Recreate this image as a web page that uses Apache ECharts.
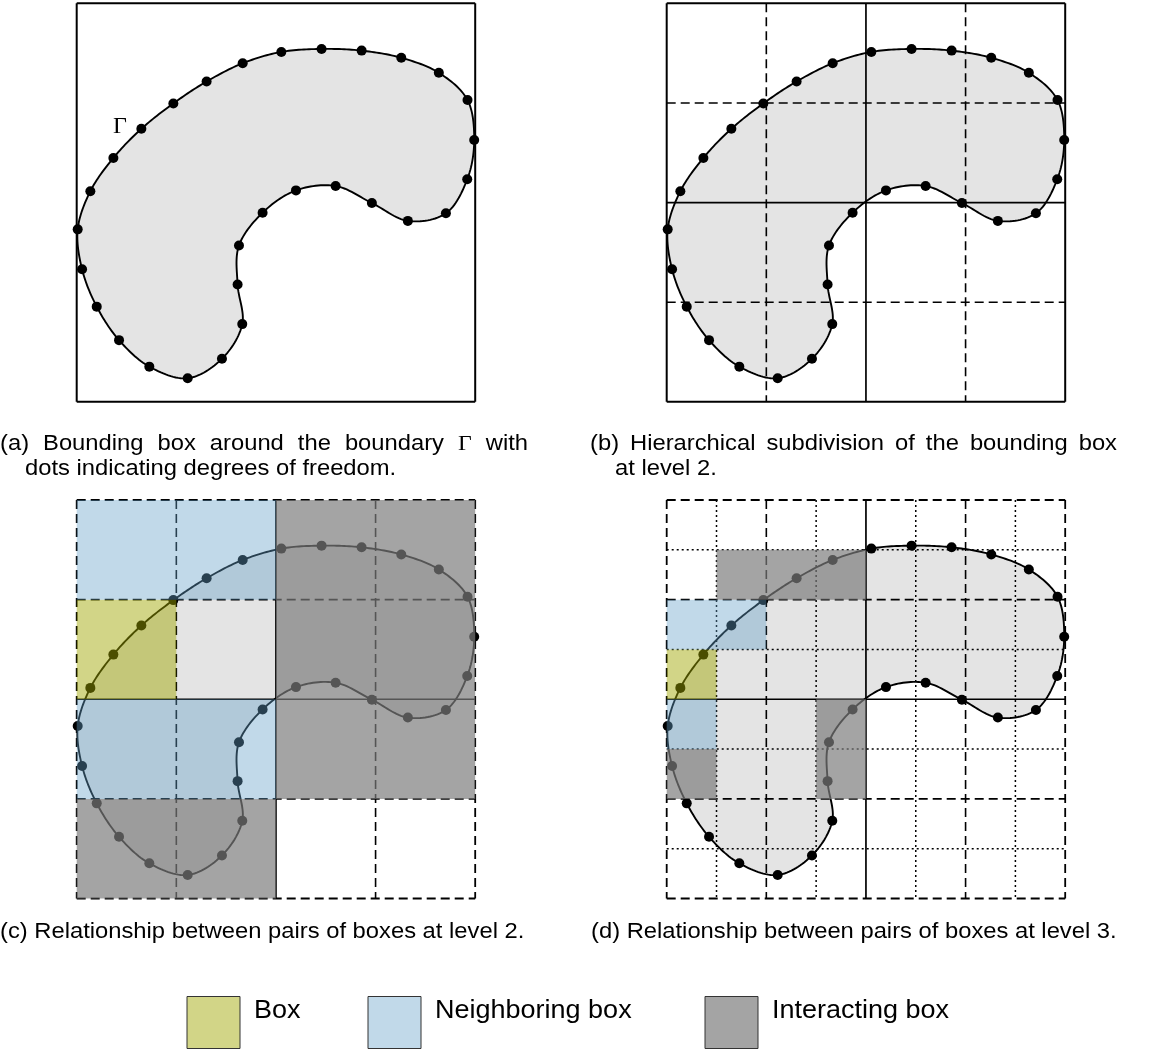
<!DOCTYPE html>
<html><head><meta charset="utf-8">
<script src="https://cdn.jsdelivr.net/npm/echarts@6/dist/echarts.min.js"></script>
<style>html,body{margin:0;padding:0;background:#fff}#c{width:1163px;height:1052px}</style>
</head><body><div id="c"></div>
<script>
// ---- data (box units, 4x4 bounding box, v measured downward) ----
const dotU = [2.458,2.860,3.258,3.635,3.923,3.990,3.920,3.706,3.324,2.963,2.599,2.201,1.866,1.629,1.615,1.662,1.458,1.114,0.729,0.425,0.201,0.054,0.010,0.137,0.368,0.649,0.970,1.304,1.666,2.054];
const dotV = [0.458,0.475,0.547,0.697,0.971,1.373,1.767,2.108,2.184,2.005,1.834,1.878,2.102,2.431,2.822,3.220,3.568,3.764,3.647,3.381,3.045,2.670,2.269,1.886,1.552,1.260,1.005,0.785,0.602,0.488];

const borderPos = [0, 4];
const level1Pos = [2];
const level2Pos = [1, 3];
const level3Pos = [0.5, 1.5, 2.5, 3.5];

// boxes as [u0, v0, u1, v1]
const level2Box = [[0,1,1,2]];
const level2Neighbors = [[0,0,2,1],[0,2,2,3]];
const level2Interacting = [[2,0,4,3],[0,3,2,4]];
const level3Box = [[0,1.5,0.5,2]];
const level3Neighbors = [[0,1,1,1.5],[0,2,0.5,2.5]];
const level3Interacting = [[0.5,0.5,2,1],[0,2.5,0.5,3],[1.5,2,2,3]];

const captions = [
  ['(a)', 'Bounding box around the boundary Γ with', 'dots indicating degrees of freedom.'],
  ['(b)', 'Hierarchical subdivision of the bounding box', 'at level 2.'],
  ['(c)', 'Relationship between pairs of boxes at level 2.', null],
  ['(d)', 'Relationship between pairs of boxes at level 3.', null]
];
const legendLabels = ['Box', 'Neighboring box', 'Interacting box'];

// ---- styles ----
const overlayColors = ['rgba(160,166,0,0.47)', 'rgba(100,160,200,0.40)', 'rgba(123,123,123,0.69)'];
const PANEL = [
  {left: 76.7, top: 3.3, border: 'solid', maxLevel: 0},
  {left: 666.7, top: 3.3, border: 'solid', maxLevel: 2},
  {left: 76.7, top: 500, border: 'dashed', maxLevel: 2},
  {left: 666.7, top: 500, border: 'dashed', maxLevel: 3}
];
const SIZE = 398.5;
const DASH = [9, 5], DOT = [2, 3];

function closedSpline(pts, n) {
  const out = [], N = pts.length;
  for (let i = 0; i < N; i++) {
    const p0 = pts[(i - 1 + N) % N], p1 = pts[i], p2 = pts[(i + 1) % N], p3 = pts[(i + 2) % N];
    for (let k = 0; k < n; k++) {
      const t = k / n, t2 = t * t, t3 = t2 * t;
      const f = j => 0.5 * (2 * p1[j] + (-p0[j] + p2[j]) * t + (2 * p0[j] - 5 * p1[j] + 4 * p2[j] - p3[j]) * t2 + (-p0[j] + 3 * p1[j] - 3 * p2[j] + p3[j]) * t3);
      out.push([f(0), f(1)]);
    }
  }
  return out;
}

function lineData(p) {
  const d = [];
  const add = (arr, style) => arr.forEach(pos => { d.push([0, pos, style]); d.push([1, pos, style]); });
  if (PANEL[p].maxLevel >= 3) add(level3Pos, 3);
  if (PANEL[p].maxLevel >= 2) add(level2Pos, 2);
  if (PANEL[p].maxLevel >= 1) add(level1Pos, 1);
  add(borderPos, PANEL[p].border === 'solid' ? 0 : 4);
  return d;
}
function lineStyle(s) {
  if (s === 0) return {stroke: '#000', lineWidth: 2};
  if (s === 1) return {stroke: '#000', lineWidth: 1.7};
  if (s === 2) return {stroke: '#000', lineWidth: 1.6, lineDash: DASH};
  if (s === 3) return {stroke: '#000', lineWidth: 1.5, lineDash: DOT};
  return {stroke: '#000', lineWidth: 1.8, lineDash: DASH};
}

const overlayData = [
  [], [],
  level2Box.map(b => b.concat(0)).concat(level2Neighbors.map(b => b.concat(1)), level2Interacting.map(b => b.concat(2))),
  level3Box.map(b => b.concat(0)).concat(level3Neighbors.map(b => b.concat(1)), level3Interacting.map(b => b.concat(2)))
];

const grids = [], xAxes = [], yAxes = [], series = [];
PANEL.forEach((P, p) => {
  grids.push({left: P.left, top: P.top, width: SIZE, height: SIZE, containLabel: false});
  xAxes.push({type: 'value', gridIndex: p, min: 0, max: 4, show: false});
  yAxes.push({type: 'value', gridIndex: p, min: 0, max: 4, inverse: true, show: false});
  const ax = {xAxisIndex: p, yAxisIndex: p};
  series.push(Object.assign({
    type: 'custom', z: 1, silent: true, clip: false,
    data: [[2, 2]],
    renderItem: (params, api) => {
      const pts = dotU.map((u, i) => api.coord([u, dotV[i]]));
      return {type: 'polygon', shape: {points: closedSpline(pts, 16)},
        style: {fill: '#e4e4e4', stroke: '#000', lineWidth: 1.9}};
    }
  }, ax));
  series.push(Object.assign({
    type: 'custom', z: 2, silent: true, clip: false,
    data: lineData(p),
    renderItem: (params, api) => {
      const o = api.value(0), pos = api.value(1), s = api.value(2);
      const a = o === 0 ? api.coord([pos, 0]) : api.coord([0, pos]);
      const b = o === 0 ? api.coord([pos, 4]) : api.coord([4, pos]);
      return {type: 'line', shape: {x1: a[0], y1: a[1], x2: b[0], y2: b[1]}, style: lineStyle(s)};
    }
  }, ax));
  series.push(Object.assign({
    type: 'scatter', z: 3, silent: true, symbolSize: 10,
    itemStyle: {color: '#000', opacity: 1},
    data: dotU.map((u, i) => [u, dotV[i]])
  }, ax));
  if (overlayData[p].length) {
    series.push(Object.assign({
      type: 'custom', z: 4, silent: true, clip: false,
      data: overlayData[p],
      renderItem: (params, api) => {
        const a = api.coord([api.value(0), api.value(1)]);
        const b = api.coord([api.value(2), api.value(3)]);
        return {type: 'rect', shape: {x: a[0], y: a[1], width: b[0] - a[0], height: b[1] - a[1]},
          style: {fill: overlayColors[api.value(4)]}};
      }
    }, ax));
  }
});

// ---- text (captions, legend) ----
const SANS = '"Liberation Sans", Arial, Helvetica, sans-serif';
const SERIF = '"Liberation Serif", "DejaVu Serif", serif';
const SX = 1.08;
const mctx = document.createElement('canvas').getContext('2d');
function measure(t, size, fam) { mctx.font = size + 'px ' + fam; return mctx.measureText(t).width; }

const graphics = [];
function textEl(t, x, y, size, fam) {
  graphics.push({type: 'text', x: x, y: y, scaleX: SX, silent: true,
    style: {text: t, font: size + 'px ' + fam, fill: '#000', verticalAlign: 'middle', align: 'left'}});
}
function placeLine(words, x0, x1, y, size, justify) {
  const fams = words.map(w => w === 'Γ' ? SERIF : SANS);
  const ws = words.map((w, i) => measure(w, size, fams[i]) * SX);
  const total = ws.reduce((a, b) => a + b, 0);
  const gap = justify ? (x1 - x0 - total) / (words.length - 1) : measure(' ', size, SANS) * SX;
  let x = x0;
  words.forEach((w, i) => { textEl(w, x, y, size, fams[i]); x += ws[i] + gap; });
}
const CAP = 22;
const capX = [[0, 528], [590, 1117], [0, 526], [591, 1117]];
const capY = [444, 444, 932, 932];
captions.forEach((c, i) => {
  const label = c[0];
  const words = [label].concat(c[1].split(' '));
  placeLine(words, capX[i][0], capX[i][1], capY[i], CAP, c[2] !== null);
  if (c[2] !== null) {
    const indent = measure(label, CAP, SANS) * SX - 4;
    placeLine(c[2].split(' '), capX[i][0] + indent, 0, capY[i] + 25, CAP, false);
  }
});
// Gamma label next to boundary in panel (a)
graphics.push({type: 'text', x: 120, y: 127, silent: true,
  style: {text: 'Γ', font: '24px ' + SERIF, fill: '#000', align: 'center', verticalAlign: 'middle'}});

// legend
const LEG = 25;
const legX = [187, 368, 705];
legendLabels.forEach((l, i) => {
  graphics.push({type: 'rect', silent: true, shape: {x: legX[i], y: 996.5, width: 53, height: 52},
    style: {fill: overlayColors[i], stroke: '#333', lineWidth: 1}});
  textEl(l, legX[i] + 67, 1011, LEG, SANS);
});

const chart = echarts.init(document.getElementById('c'), null, {renderer: 'canvas'});
chart.setOption({
  animation: false,
  backgroundColor: '#fff',
  grid: grids, xAxis: xAxes, yAxis: yAxes,
  series: series,
  graphic: graphics
});
</script></body></html>
